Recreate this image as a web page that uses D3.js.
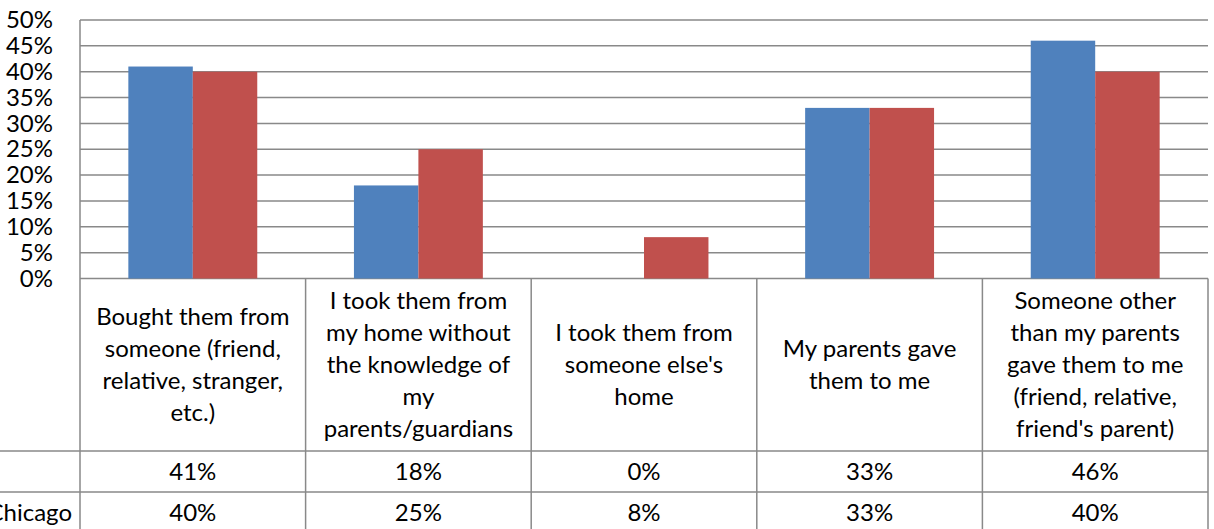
<!DOCTYPE html>
<html>
<head>
<meta charset="utf-8">
<script src="https://cdn.jsdelivr.net/npm/d3@7/dist/d3.min.js"></script>
<style>
  html, body { margin: 0; padding: 0; background: #ffffff; }
  svg { display: block; }
  text { font-family: Lato, "Open Sans", "Noto Sans", sans-serif; fill: #000; }
</style>
</head>
<body>
<svg id="chart" width="1214" height="529"></svg>
<script>
// ---- data ----
const categories = [
  "Bought them from\nsomeone (friend,\nrelative, stranger,\netc.)",
  "I took them from\nmy home without\nthe knowledge of\nmy\nparents/guardians",
  "I took them from\nsomeone else's\nhome",
  "My parents gave\nthem to me",
  "Someone other\nthan my parents\ngave them to me\n(friend, relative,\nfriend's parent)"
];
const seriesNames = ["", "Chicago"];
const seriesA = [0.41, 0.18, 0.00, 0.33, 0.46];
const seriesB = [0.40, 0.25, 0.08, 0.33, 0.40];
const seriesColors = ["#4F81BD", "#C0504D"];
const yTicks = [0, 0.05, 0.10, 0.15, 0.20, 0.25, 0.30, 0.35, 0.40, 0.45, 0.50];

// ---- layout ----
const W = 1214, H = 529;
const plotLeft = 80, plotRight = 1208, plotTop = 20, plotBottom = 278.5;
const catRowBottom = 451, rowH = 41;
const lineColor = "#898989";
const fontSize = 24;

const svg = d3.select("#chart");

const x = d3.scaleBand().domain(d3.range(categories.length)).range([plotLeft, plotRight]).paddingInner(0).paddingOuter(0);
const x1 = d3.scaleBand().domain([0, 1]).range([0, x.bandwidth()]).paddingInner(0).paddingOuter(0.75);
const y = d3.scaleLinear().domain([0, 0.5]).range([plotBottom, plotTop]);

// gridlines
svg.append("g").selectAll("line").data(yTicks).join("line")
  .attr("x1", plotLeft).attr("x2", plotRight)
  .attr("y1", d => y(d)).attr("y2", d => y(d))
  .attr("stroke", lineColor).attr("stroke-width", 1.5);

// bars
const series = [seriesA, seriesB];
series.forEach((vals, si) => {
  svg.append("g").selectAll("rect").data(vals).join("rect")
    .attr("x", (d, i) => x(i) + x1(si))
    .attr("width", x1.bandwidth())
    .attr("y", d => y(d))
    .attr("height", d => y(0) - y(d))
    .attr("fill", seriesColors[si]);
});

// y axis
const yAxis = d3.axisLeft(y).tickValues(yTicks).tickFormat(d3.format(".0%")).tickSize(0).tickPadding(27);
const ag = svg.append("g").attr("transform", `translate(${plotLeft},0)`).call(yAxis);
ag.select(".domain").remove();
ag.selectAll("text").attr("font-size", fontSize).attr("font-family", "Lato, 'Open Sans', sans-serif").attr("fill", "#000");

// table lines
const tableBottom = catRowBottom + rowH * seriesNames.length;
const tg = svg.append("g").attr("stroke", lineColor).attr("stroke-width", 1.5);
// vertical axis line continues through table
tg.append("line").attr("x1", plotLeft).attr("x2", plotLeft).attr("y1", plotTop).attr("y2", tableBottom + 5);
// column boundaries
tg.selectAll("line.col").data(d3.range(1, categories.length + 1)).join("line").attr("class", "col")
  .attr("x1", d => x(d - 1) + x.bandwidth()).attr("x2", d => x(d - 1) + x.bandwidth())
  .attr("y1", plotBottom).attr("y2", tableBottom + 5);
// horizontal row lines
tg.selectAll("line.row").data(d3.range(seriesNames.length + 1)).join("line").attr("class", "row")
  .attr("x1", 0).attr("x2", plotRight)
  .attr("y1", d => catRowBottom + d * rowH).attr("y2", d => catRowBottom + d * rowH);

// category labels
const lineStep = 32;
const catCenter = (plotBottom + catRowBottom) / 2;
categories.forEach((c, i) => {
  const lines = c.split("\n");
  const t = svg.append("text").attr("text-anchor", "middle").attr("font-size", fontSize);
  lines.forEach((ln, k) => {
    t.append("tspan")
      .attr("x", x(i) + x.bandwidth() / 2)
      .attr("y", catCenter + (k - (lines.length - 1) / 2) * lineStep)
      .attr("dy", "0.35em")
      .text(ln);
  });
});

// values in table
const fmt = d3.format(".0%");
series.forEach((vals, si) => {
  const cy = catRowBottom + si * rowH + rowH / 2;
  svg.append("g").selectAll("text").data(vals).join("text")
    .attr("x", (d, i) => x(i) + x.bandwidth() / 2)
    .attr("y", cy).attr("dy", "0.35em")
    .attr("text-anchor", "middle").attr("font-size", fontSize)
    .text(d => fmt(d));
  svg.append("text").attr("x", 72).attr("y", cy).attr("dy", "0.35em")
    .attr("text-anchor", "end").attr("font-size", fontSize)
    .text(seriesNames[si]);
});
</script>
</body>
</html>
